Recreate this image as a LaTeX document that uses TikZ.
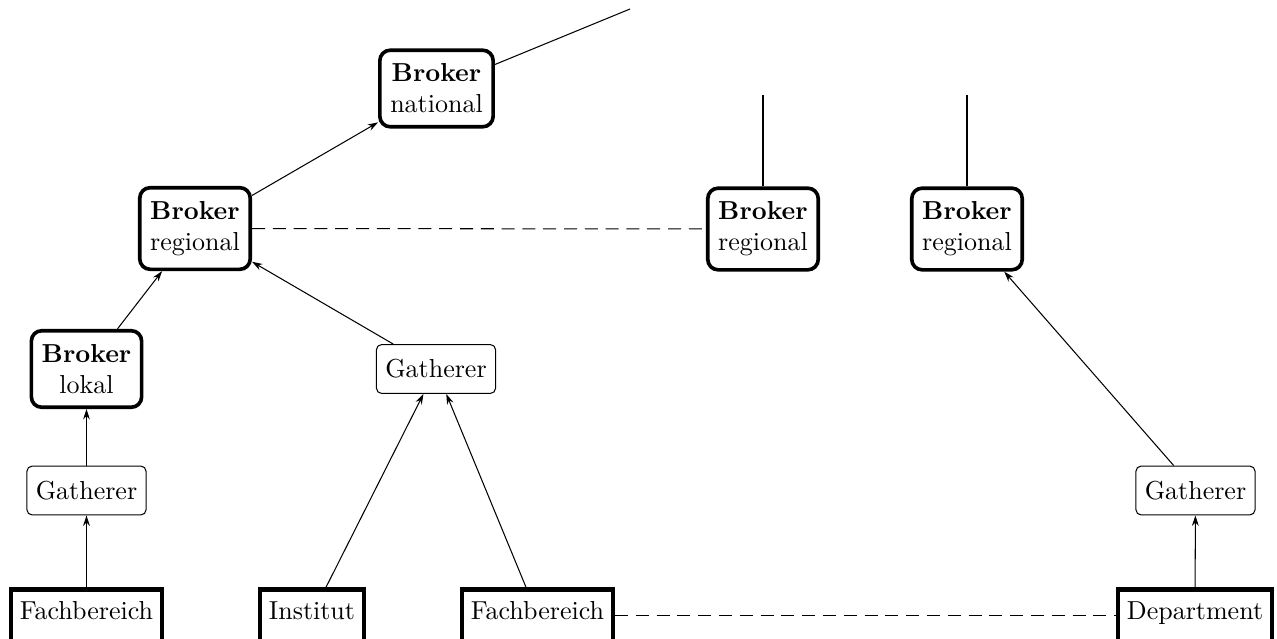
\documentclass[tikz,border=0pt]{standalone}
\usetikzlibrary{arrows.meta}
\begin{document}
\begin{tikzpicture}[x=0.38462pt,y=-0.38462pt,
  broker/.style={draw,line width=1.4pt,rounded corners=4pt,align=center,inner xsep=4pt,inner ysep=5.2pt},
  gath/.style={draw,line width=0.4pt,rounded corners=2pt,inner xsep=3.4pt,inner ysep=3.33pt,minimum height=18.8pt},
  unit/.style={draw,line width=1.6pt,inner sep=3.33pt,text height=8pt,text depth=5pt,anchor=base},
  arr/.style={line width=0.4pt,-{Stealth[length=4pt,width=2.6pt]}},
  ln/.style={line width=0.4pt},
  dsh/.style={line width=0.4pt,dash pattern=on 5pt off 3pt}]
\clip (0,0) rectangle (1277,639);
\node[broker] (nat) at (436.5,88.5) {\textbf{Broker}\\national};
\node[broker] (regL) at (195,228.5) {\textbf{Broker}\\regional};
\node[broker] (regM) at (763,229) {\textbf{Broker}\\regional};
\node[broker] (regR) at (967,229) {\textbf{Broker}\\regional};
\node[broker] (lok) at (86.5,369) {\textbf{Broker}\\lokal};
\node[gath] (gL) at (86.5,490.5) {Gatherer};
\node[gath] (gM) at (436,369) {Gatherer};
\node[gath] (gR) at (1195.5,490.5) {Gatherer};
\node[unit] (fbL) at (86.5,619) {Fachbereich};
\node[unit] (inst) at (312,619) {Institut};
\node[unit] (fbM) at (537.5,619) {Fachbereich};
\node[unit] (dep) at (1195,619) {Department};
\coordinate (topN) at (630,9);
\coordinate (topM) at (763,95);
\coordinate (topR) at (967,95);
\draw[ln] (nat) -- (topN);
\draw[ln] (regM) -- (topM);
\draw[ln] (regR) -- (topR);
\draw[arr] (regL) -- (nat);
\draw[arr] (lok) -- (regL);
\draw[arr] (gM) -- (regL);
\draw[arr] (gL) -- (lok);
\draw[arr] (fbL) -- (gL);
\draw[arr] (inst) -- (gM);
\draw[arr] (fbM) -- (gM);
\draw[arr] (gR) -- (regR);
\draw[arr] (dep) -- (gR);
\draw[dsh] (regL) -- (regM);
\draw[dsh] (fbM) -- (dep);
\end{tikzpicture}
\end{document}
